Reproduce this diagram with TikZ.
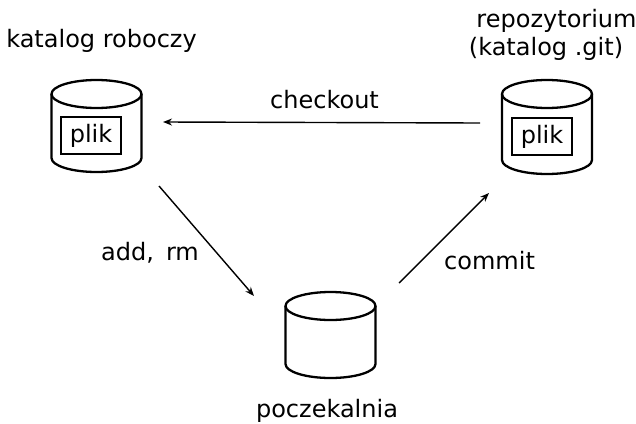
\documentclass[tikz,border=0pt]{standalone}
\usepackage{fontspec}
\setmainfont{DejaVu Sans}
\usetikzlibrary{arrows.meta}
\tikzset{
  cylline/.style={line width=2.3pt, line join=round},
  pics/cyl/.style={code={
    \draw[cylline] (0,0) ellipse [x radius=45pt, y radius=14pt];
    \draw[cylline] (-45,0) -- (-45,#1) arc [start angle=180, end angle=360, x radius=45pt, y radius=14pt] -- (45,0);
  }},
  filebox/.style={draw, line width=2.1pt, minimum width=60pt, minimum height=37pt, inner sep=0pt, font=\fontsize{24}{28}\selectfont},
  lbl/.style={inner sep=0pt, font=\fontsize{24}{28}\selectfont},
  flow/.style={line width=1.4pt, -{Stealth[length=9pt, width=7pt]}}
}
\begin{document}
\begin{tikzpicture}[x=1pt, y=-1pt]
\useasboundingbox (0,0) rectangle (636,423);
% cylinders
\pic at (96.5,94) {cyl=64};
\pic at (547,94) {cyl=66};
\pic at (330.5,306) {cyl=58};
% file boxes
\node[filebox] (fileL) at (91,135.5) {plik};
\node[filebox] (fileR) at (542,136.5) {plik};
% labels
\node[lbl, anchor=base] (workdir) at (101.5,47) {katalog roboczy};
\node[lbl, anchor=base] (repo1) at (556.5,27) {repozytorium};
\node[lbl, anchor=base] (repo2) at (546,55) {(katalog .git)};
\node[lbl, anchor=base] (stage) at (327,417) {poczekalnia};
\node[lbl, anchor=base] (lco) at (324.5,108) {checkout};
\node[lbl, anchor=base west] (ladd) at (101,260) {add,\hspace{0.5em}rm};
\node[lbl, anchor=base west] (lcommit) at (444,269) {commit};
% connector ends
\coordinate (coS) at (480,123);
\coordinate (coE) at (163,122);
\coordinate (adS) at (159,186);
\coordinate (adE) at (254,296);
\coordinate (cmS) at (399,283);
\coordinate (cmE) at (489,193);
\draw[flow] (coS) -- (coE);
\draw[flow] (adS) -- (adE);
\draw[flow] (cmS) -- (cmE);
\end{tikzpicture}
\end{document}
